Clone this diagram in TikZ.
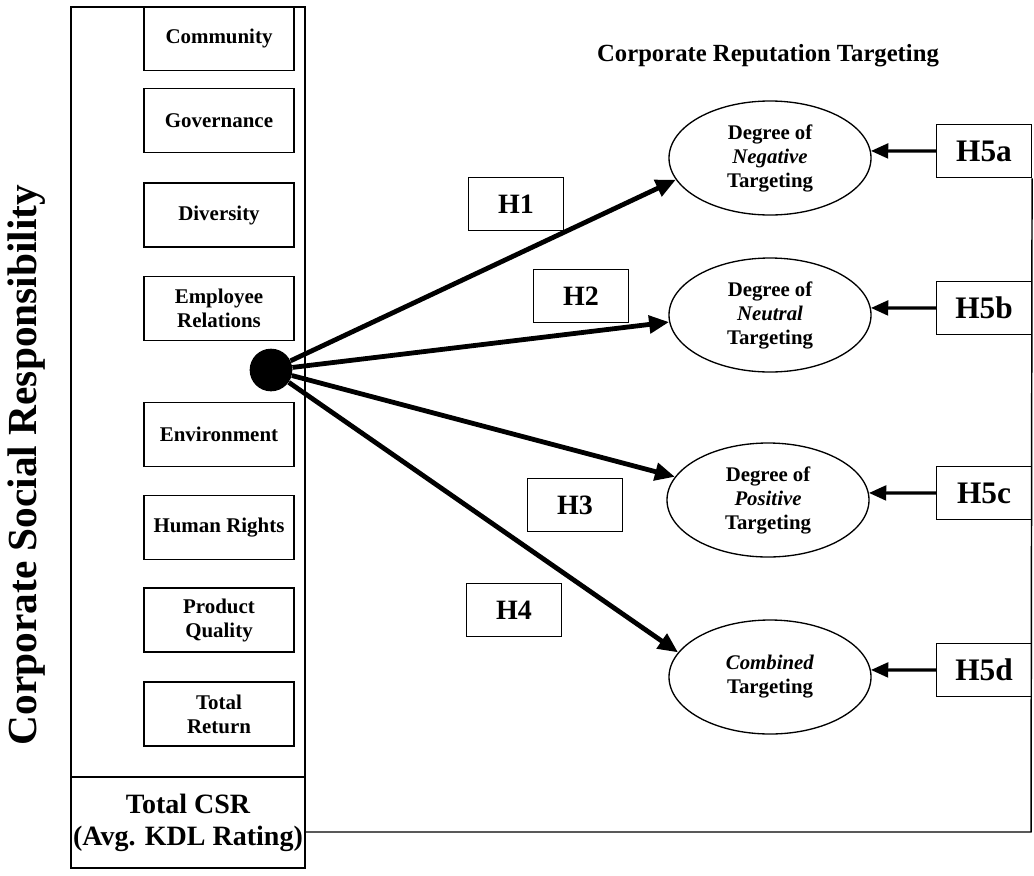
\documentclass[tikz,border=0pt]{standalone}
\usepackage{fontspec}
\setmainfont{Liberation Serif}
\usetikzlibrary{arrows.meta,shapes.geometric,calc}
\begin{document}
\begin{tikzpicture}[x=0.75pt,y=-0.75pt,
 csrbox/.style={draw,line width=1.1pt,minimum width=112.5pt,minimum height=48pt,inner sep=0pt,align=center,font=\fontsize{15.7}{18}\selectfont\bfseries},
 target/.style={draw,ellipse,line width=1pt,minimum width=151.5pt,minimum height=85.5pt,inner sep=0pt,align=center,font=\fontsize{15.6}{18}\selectfont\bfseries},
 hbox/.style={draw,line width=1.1pt,minimum width=71pt,minimum height=40pt,inner sep=0pt,font=\fontsize{21}{24}\selectfont\bfseries},
 hfivebox/.style={hbox,font=\fontsize{23.5}{26}\selectfont\bfseries},
 mainarrow/.style={line width=3.6pt,-{Triangle[length=15pt,width=13pt]}},
 sidearrow/.style={line width=2.4pt,-{Triangle[length=13pt,width=11pt]}},
]
\useasboundingbox (0,0) rectangle (1034,875);
\fill[white] (0,0) rectangle (1034,875);

% left panel
\node[draw,line width=1.1pt,minimum width=175.5pt,minimum height=577.5pt,inner sep=0pt] (panel) at (188,392) {};
\node[draw,line width=1.1pt,minimum width=175.5pt,minimum height=68.25pt,inner sep=0pt,align=center,font=\fontsize{21}{24}\selectfont\bfseries] (csr) at (188,822.5) {Total CSR\\(Avg. KDL Rating)};

\node[csrbox] (community) at (219,38.5) {Community};
\node[csrbox] (governance) at (219,120.5) {Governance};
\node[csrbox] (diversity) at (219,215) {Diversity};
\node[csrbox] (employee) at (219,308.5) {Employee\\Relations};
\node[csrbox] (environment) at (219,434.5) {Environment};
\node[csrbox] (human) at (219,527.5) {Human Rights};
\node[csrbox] (product) at (219,620) {Product\\Quality};
\node[csrbox] (totalreturn) at (219,714) {Total\\Return};

\node[rotate=90,font=\fontsize{31}{36}\selectfont\bfseries] (vlabel) at (27,465) {Corporate Social Responsibility};

\node[circle,fill=black,minimum size=32pt,inner sep=0pt] (dot) at (271,370) {};

% title
\node[font=\fontsize{18.5}{22}\selectfont\bfseries] (title) at (768,56) {Corporate Reputation Targeting};

% targets
\node[target] (neg) at (770,158) {Degree of\\\textit{Negative}\\Targeting};
\node[target] (neu) at (770,315) {Degree of\\\textit{Neutral}\\Targeting};
\node[target] (pos) at (768,500) {Degree of\\\textit{Positive}\\Targeting};
\node[target] (comb) at (770,677) {\textit{Combined}\\Targeting};

% hypothesis boxes
\node[hbox] (h1) at (516,204) {H1};
\node[hbox] (h2) at (581,296) {H2};
\node[hbox] (h3) at (575,505) {H3};
\node[hbox] (h4) at (514,610) {H4};

\node[hfivebox] (h5a) at (984,151) {H5a};
\node[hfivebox] (h5b) at (984,308) {H5b};
\node[hfivebox] (h5c) at (984,493) {H5c};
\node[hfivebox] (h5d) at (984,670) {H5d};

% main arrows
\draw[mainarrow] (dot) -- (neg.193);
\draw[mainarrow] (dot) -- (neu.184);
\draw[mainarrow] (dot) -- (pos.166);
\draw[mainarrow] (dot) -- (comb.165);

% side arrows
\draw[sidearrow] (h5a.west) -- (neg.4);
\draw[sidearrow] (h5b.west) -- (neu.4);
\draw[sidearrow] (h5c.west) -- (pos.4);
\draw[sidearrow] (h5d.west) -- (comb.4);

% connector line
\coordinate (corner) at (1031,832);
\draw[line width=1.1pt] (h5a.south east) -- (corner) -- (corner -| csr.east);
\end{tikzpicture}
\end{document}
